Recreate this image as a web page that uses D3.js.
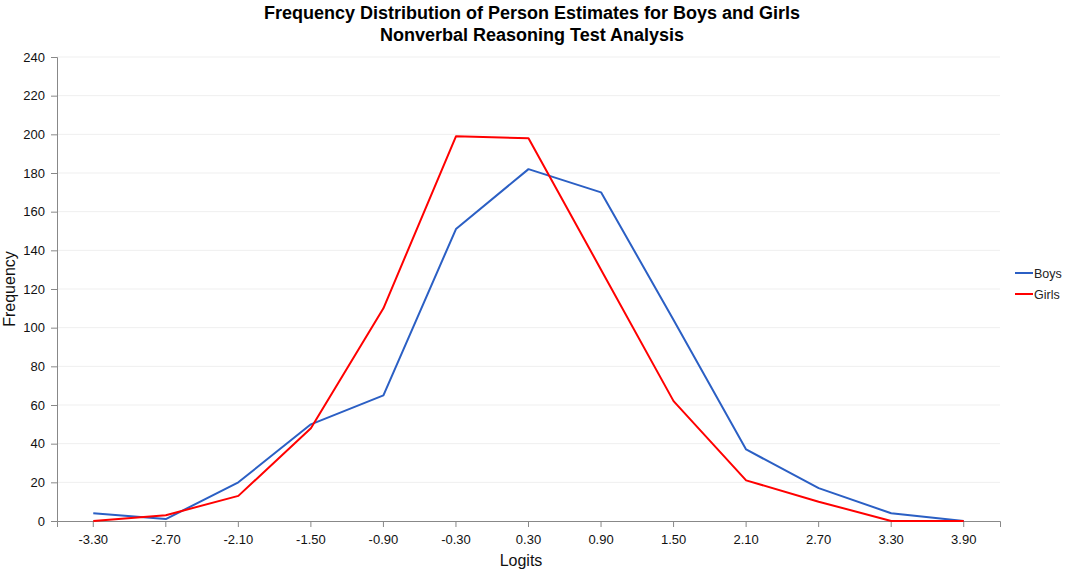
<!DOCTYPE html>
<html>
<head>
<meta charset="utf-8">
<script src="https://cdn.jsdelivr.net/npm/d3@7"></script>
<style>
    body { margin: 0; background: #fff; }
    text { font-family: 'Liberation Sans', Arial, sans-serif; }
</style>
</head>
<body>
<svg id="chart" width="1065" height="571"></svg>
<script>
const logits = ['-3.30','-2.70','-2.10','-1.50','-0.90','-0.30','0.30','0.90','1.50','2.10','2.70','3.30','3.90'];
const boys = [4, 1, 20, 50, 65, 151, 182, 170, 104, 37, 17, 4, 0];
const girls = [0, 3, 13, 48, 110, 199, 198, 130, 62, 21, 10, 0, 0];
const yTicks = d3.range(0, 241, 20);

const series = [
    {name: 'Boys', values: boys, color: '#2b5fc4'},
    {name: 'Girls', values: girls, color: '#ff0000'}
];

const svg = d3.select('#chart');
const margin = {left: 57, right: 65, top: 57, bottom: 50};
const width = 1065, height = 571;

const x = d3.scaleBand()
    .domain(logits)
    .range([margin.left, width - margin.right]);

const y = d3.scaleLinear()
    .domain([0, 240])
    .range([height - margin.bottom, margin.top]);

// gridlines
svg.append('g')
    .attr('class', 'grid')
    .selectAll('line')
    .data(yTicks.filter(d => d > 0))
    .enter().append('line')
    .attr('x1', margin.left)
    .attr('x2', width - margin.right)
    .attr('y1', d => y(d))
    .attr('y2', d => y(d))
    .attr('stroke', '#efefef')
    .attr('stroke-width', 1);

// y axis
const yAxis = svg.append('g')
    .attr('transform', `translate(${margin.left},0)`)
    .call(d3.axisLeft(y).tickValues(yTicks).tickSize(6).tickPadding(6));

// x axis
const xAxis = svg.append('g')
    .attr('transform', `translate(0,${height - margin.bottom})`)
    .call(d3.axisBottom(x).tickSize(6).tickPadding(8));

[xAxis, yAxis].forEach(ax => {
    ax.select('.domain').attr('stroke', '#888');
    ax.selectAll('.tick line').attr('stroke', '#888');
    ax.selectAll('.tick text')
        .style('font-size', '13px')
        .style('font-family', "'Liberation Sans', Arial, sans-serif")
        .attr('fill', '#111');
});

// lines
const line = d3.line()
    .x((d, i) => x(logits[i]) + x.bandwidth() / 2)
    .y(d => y(d));

series.forEach(s => {
    svg.append('path')
        .datum(s.values)
        .attr('fill', 'none')
        .attr('stroke', s.color)
        .attr('stroke-width', 2)
        .attr('stroke-linejoin', 'round')
        .attr('d', line);
});

// title
svg.append('text')
    .attr('x', 532)
    .attr('y', 19)
    .style('text-anchor', 'middle')
    .style('font-size', '18px')
    .style('font-weight', 'bold')
    .text('Frequency Distribution of Person Estimates for Boys and Girls');

svg.append('text')
    .attr('x', 532)
    .attr('y', 41)
    .style('text-anchor', 'middle')
    .style('font-size', '18px')
    .style('font-weight', 'bold')
    .text('Nonverbal Reasoning Test Analysis');

// axis titles
svg.append('text')
    .attr('x', 521)
    .attr('y', 566)
    .style('text-anchor', 'middle')
    .style('font-size', '16px')
    .attr('fill', '#111')
    .text('Logits');

svg.append('text')
    .attr('transform', 'translate(15, 289) rotate(-90)')
    .style('text-anchor', 'middle')
    .style('font-size', '16px')
    .attr('fill', '#111')
    .text('Frequency');

// legend
const legend = svg.append('g')
    .attr('transform', 'translate(1015, 273)');

series.forEach((s, i) => {
    const item = legend.append('g')
        .attr('transform', `translate(0, ${i * 21})`);

    item.append('line')
        .attr('x1', 0)
        .attr('x2', 18)
        .attr('stroke', s.color)
        .attr('stroke-width', 2);

    item.append('text')
        .attr('x', 19)
        .attr('y', 4.5)
        .style('font-size', '12.5px')
        .attr('fill', '#222')
        .text(s.name);
});
</script>
</body>
</html>
